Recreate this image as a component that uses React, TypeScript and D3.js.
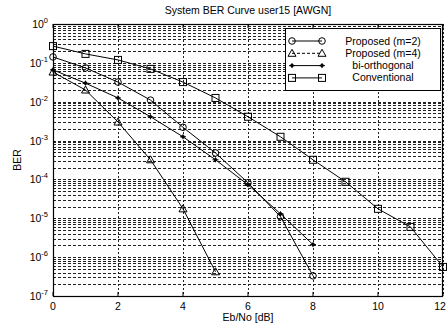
import React from "react";
import * as d3 from "d3";

const ebno = [0, 1, 2, 3, 4, 5, 6, 7, 8, 9, 10, 11, 12];
const proposedM2 = [0.142, 0.074, 0.032, 0.011, 0.0022, 4.8e-4, 8.2e-5, 1.1e-5, 3.3e-7];
const proposedM4 = [0.058, 0.02, 0.003, 3.2e-4, 1.75e-5, 4.2e-7];
const biOrthogonal = [0.066, 0.03, 0.0125, 0.0041, 0.00125, 3.2e-4, 7.3e-5, 1.3e-5, 2.1e-6];
const conventional = [0.27, 0.17, 0.119, 0.07, 0.032, 0.0125, 0.0041, 0.00125, 3.2e-4, 8.7e-5, 1.75e-5, 6e-6, 5.6e-7];
const xTicks = [0, 2, 4, 6, 8, 10, 12];
const yExponents = [0, -1, -2, -3, -4, -5, -6, -7];
const legendLabels = ["Proposed (m=2)", "Proposed (m=4)", "bi-orthogonal", "Conventional"];
const markerKinds = ["circle", "triangle", "star", "square"];

const W = 447, H = 327;
const L = 53, R = 443, T = 24, B = 296;
const font = "Liberation Sans, Arial, sans-serif";

function Marker({ kind, x, y }: { kind: string; x: number; y: number }) {
  if (kind === "circle") return <circle cx={x} cy={y} r={3.3} fill="none" stroke="#000" strokeWidth={1} />;
  if (kind === "square") return <rect x={x - 3.5} y={y - 3.5} width={7} height={7} fill="none" stroke="#000" strokeWidth={1} />;
  if (kind === "triangle") return <path d={`M${x},${y - 4}L${x + 4},${y + 3}L${x - 4},${y + 3}Z`} fill="none" stroke="#000" strokeWidth={1} />;
  return <g><circle cx={x} cy={y} r={1.8} fill="#000" /><path d={`M${x - 3},${y}H${x + 3}M${x},${y - 2.5}V${y + 2.5}`} stroke="#000" strokeWidth={1} /></g>;
}

export default function App() {
  const x = d3.scaleLinear().domain([0, 12]).range([L, R]);
  const y = d3.scaleLog().domain([1e-7, 1]).range([B, T]);
  const series = [proposedM2, proposedM4, biOrthogonal, conventional];
  const line = d3.line<number>().x((_, i) => x(ebno[i])).y((d) => y(d));

  const minorY: number[] = [];
  for (let e = -7; e < 0; e++) for (let m = 1; m <= 9; m++) minorY.push(m * Math.pow(10, e));
  minorY.push(1);

  return (
    <svg width={W} height={H} style={{ position: "absolute", left: 0, top: 0, background: "#fff" }}>
      <rect x={0} y={0} width={W} height={H} fill="#fff" />
      {/* horizontal grid */}
      {minorY.map((v, i) => (
        <line key={"h" + i} x1={L} x2={R} y1={Math.round(y(v)) + 0.5} y2={Math.round(y(v)) + 0.5} stroke="#222" strokeWidth={1} strokeDasharray="3,2" />
      ))}
      {/* vertical grid */}
      {xTicks.map((t) => (
        <line key={"v" + t} x1={Math.round(x(t)) + 0.5} x2={Math.round(x(t)) + 0.5} y1={T} y2={B} stroke="#222" strokeWidth={1} strokeDasharray="2,2" />
      ))}
      {/* series lines */}
      {series.map((s, k) => (
        <path key={"l" + k} d={line(s) || ""} fill="none" stroke="#000" strokeWidth={1} />
      ))}
      {series.map((s, k) => s.map((v, i) => <Marker key={`m${k}-${i}`} kind={markerKinds[k]} x={x(ebno[i])} y={y(v)} />))}
      {/* axes box */}
      <rect x={L + 0.5} y={T + 0.5} width={R - L - 1} height={B - T} fill="none" stroke="#000" strokeWidth={1.2} />
      {xTicks.map((t) => (
        <g key={"xt" + t}>
          <line x1={x(t)} x2={x(t)} y1={B} y2={B - 4} stroke="#000" />
          <line x1={x(t)} x2={x(t)} y1={T} y2={T + 4} stroke="#000" />
          <text x={t === 12 ? x(t) - 3 : x(t)} y={B + 14} fontFamily={font} fontSize={10.5} textAnchor="middle">{t}</text>
        </g>
      ))}
      {yExponents.map((e) => (
        <g key={"yt" + e}>
          <text x={L - 5} y={y(Math.pow(10, e)) + 4} fontFamily={font} fontSize={10.5} textAnchor="end">
            10<tspan dy={-5} fontSize={7.5}>{e}</tspan>
          </text>
        </g>
      ))}
      <text x={248} y={14} fontFamily={font} fontSize={10.5} textAnchor="middle">System BER Curve user15 [AWGN]</text>
      <text x={248} y={321} fontFamily={font} fontSize={10.5} textAnchor="middle">Eb/No [dB]</text>
      <text transform={`translate(21,160) rotate(-90)`} fontFamily={font} fontSize={10.5} textAnchor="middle">BER</text>
      {/* legend */}
      <rect x={285.5} y={28.5} width={155} height={62} fill="#fff" stroke="#000" strokeWidth={1} />
      {legendLabels.map((lab, k) => {
        const ly = 41 + k * 12.3;
        return (
          <g key={"lg" + k}>
            <line x1={292} x2={322} y1={ly} y2={ly} stroke="#000" strokeWidth={1} strokeDasharray={k === 1 ? "3,2" : undefined} />
            <Marker kind={markerKinds[k]} x={292} y={ly} />
            <Marker kind={markerKinds[k]} x={322} y={ly} />
            <text x={383} y={ly + 3.5} fontFamily={font} fontSize={10.5} textAnchor="middle">{lab}</text>
          </g>
        );
      })}
    </svg>
  );
}
